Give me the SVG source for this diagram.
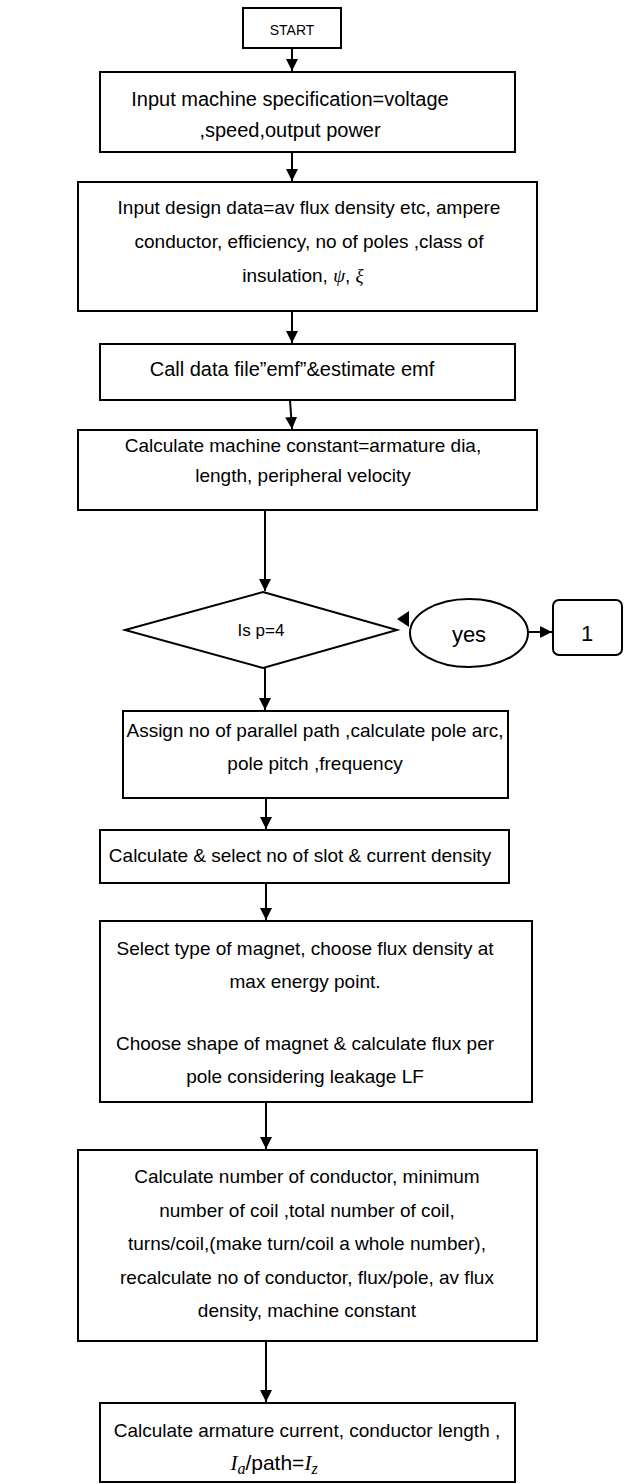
<svg xmlns="http://www.w3.org/2000/svg" width="626" height="1484" viewBox="0 0 626 1484">
<style>
.box{fill:#fff;stroke:#000;stroke-width:2}
.t{font-family:"Liberation Sans","Open Sans",Arial,sans-serif;font-size:19px;fill:#000;text-anchor:middle}
.m{font-family:"Liberation Serif","DejaVu Serif",serif;font-style:italic}
.c{stroke:#000;stroke-width:2;fill:none}
</style>
<defs>
<marker id="ah" markerWidth="14" markerHeight="14" refX="12" refY="6" orient="auto" markerUnits="userSpaceOnUse">
<path d="M0,0 L12,6 L0,12 Z" fill="#000"/>
</marker>
</defs>
<rect width="626" height="1484" fill="#fff"/>
<g id="connectors">
<line class="c" x1="292" y1="48" x2="292" y2="71" marker-end="url(#ah)"/>
<line class="c" x1="292" y1="152" x2="292" y2="181" marker-end="url(#ah)"/>
<line class="c" x1="292" y1="311" x2="292" y2="343" marker-end="url(#ah)"/>
<line class="c" x1="290" y1="400" x2="292" y2="429" marker-end="url(#ah)"/>
<line class="c" x1="265" y1="510" x2="265" y2="591" marker-end="url(#ah)"/>
<line class="c" x1="265" y1="668" x2="265" y2="710" marker-end="url(#ah)"/>
<line class="c" x1="266" y1="798" x2="266" y2="829" marker-end="url(#ah)"/>
<line class="c" x1="266" y1="883" x2="266" y2="920" marker-end="url(#ah)"/>
<line class="c" x1="266" y1="1102" x2="266" y2="1149" marker-end="url(#ah)"/>
<line class="c" x1="266" y1="1341" x2="266" y2="1402" marker-end="url(#ah)"/>
<line class="c" x1="528" y1="632" x2="552" y2="632" marker-end="url(#ah)"/>
<path d="M397,619 L409,611 L409,627 Z" fill="#000"/>
</g>
<g id="start">
<rect class="box" x="243" y="8" width="98" height="40"/>
<text class="t" x="292" y="35" style="font-size:14px">START</text>
</g>
<g id="box1">
<rect class="box" x="100" y="72" width="415" height="80"/>
<text class="t" x="290" y="106" style="font-size:20px">Input machine specification=voltage</text>
<text class="t" x="290" y="137" style="font-size:20px">,speed,output power</text>
</g>
<g id="box2">
<rect class="box" x="78" y="182" width="459" height="129"/>
<text class="t" x="309" y="214">Input design data=av flux density etc, ampere</text>
<text class="t" x="309" y="248">conductor, efficiency, no of poles ,class of</text>
<text class="t" x="303" y="282">insulation, <tspan class="m">ψ</tspan>, <tspan class="m">ξ</tspan></text>
</g>
<g id="box3">
<rect class="box" x="100" y="344" width="415" height="56"/>
<text class="t" x="292" y="376" style="font-size:20px">Call data file”emf”&amp;estimate emf</text>
</g>
<g id="box4">
<rect class="box" x="78" y="430" width="459" height="80"/>
<text class="t" x="303" y="452">Calculate machine constant=armature dia,</text>
<text class="t" x="303" y="482">length, peripheral  velocity</text>
</g>
<g id="decision">
<polygon class="box" points="263,592 397,630 263,668 125,630"/>
<text class="t" x="261" y="636" style="font-size:17px">Is p=4</text>
</g>
<g id="yes">
<ellipse class="box" cx="469" cy="633" rx="59" ry="34"/>
<text class="t" x="469" y="642" style="font-size:22px">yes</text>
</g>
<g id="conn1">
<rect class="box" x="553" y="600" width="69" height="55" rx="6"/>
<text class="t" x="587" y="641" style="font-size:22px">1</text>
</g>
<g id="box5">
<rect class="box" x="123" y="711" width="385" height="87"/>
<text class="t" x="315" y="737">Assign no of parallel path ,calculate pole arc,</text>
<text class="t" x="315" y="770">pole pitch ,frequency</text>
</g>
<g id="box6">
<rect class="box" x="100" y="830" width="409" height="53"/>
<text class="t" x="300" y="862">Calculate &amp; select no of slot &amp; current density</text>
</g>
<g id="box7">
<rect class="box" x="100" y="921" width="432" height="181"/>
<text class="t" x="305" y="955">Select type of magnet, choose flux density at</text>
<text class="t" x="305" y="988">max energy point.</text>
<text class="t" x="305" y="1050">Choose shape of magnet &amp; calculate flux per</text>
<text class="t" x="305" y="1083">pole considering leakage LF</text>
</g>
<g id="box8">
<rect class="box" x="78" y="1150" width="459" height="191"/>
<text class="t" x="307" y="1183">Calculate number of conductor, minimum</text>
<text class="t" x="307" y="1217">number of coil ,total number of coil,</text>
<text class="t" x="307" y="1250">turns/coil,(make turn/coil a whole number),</text>
<text class="t" x="307" y="1284">recalculate no of conductor, flux/pole, av flux</text>
<text class="t" x="307" y="1317">density, machine constant</text>
</g>
<g id="box9">
<rect class="box" x="100" y="1403" width="415" height="79"/>
<text class="t" x="307" y="1437">Calculate armature current, conductor length ,</text>
<text class="t" x="274" y="1470" style="font-size:21px"><tspan class="m">I</tspan><tspan class="m" dy="4" style="font-size:16px">a</tspan><tspan dy="-4">/path=</tspan><tspan class="m">I</tspan><tspan class="m" dy="4" style="font-size:16px">z</tspan></text>
</g>
</svg>
